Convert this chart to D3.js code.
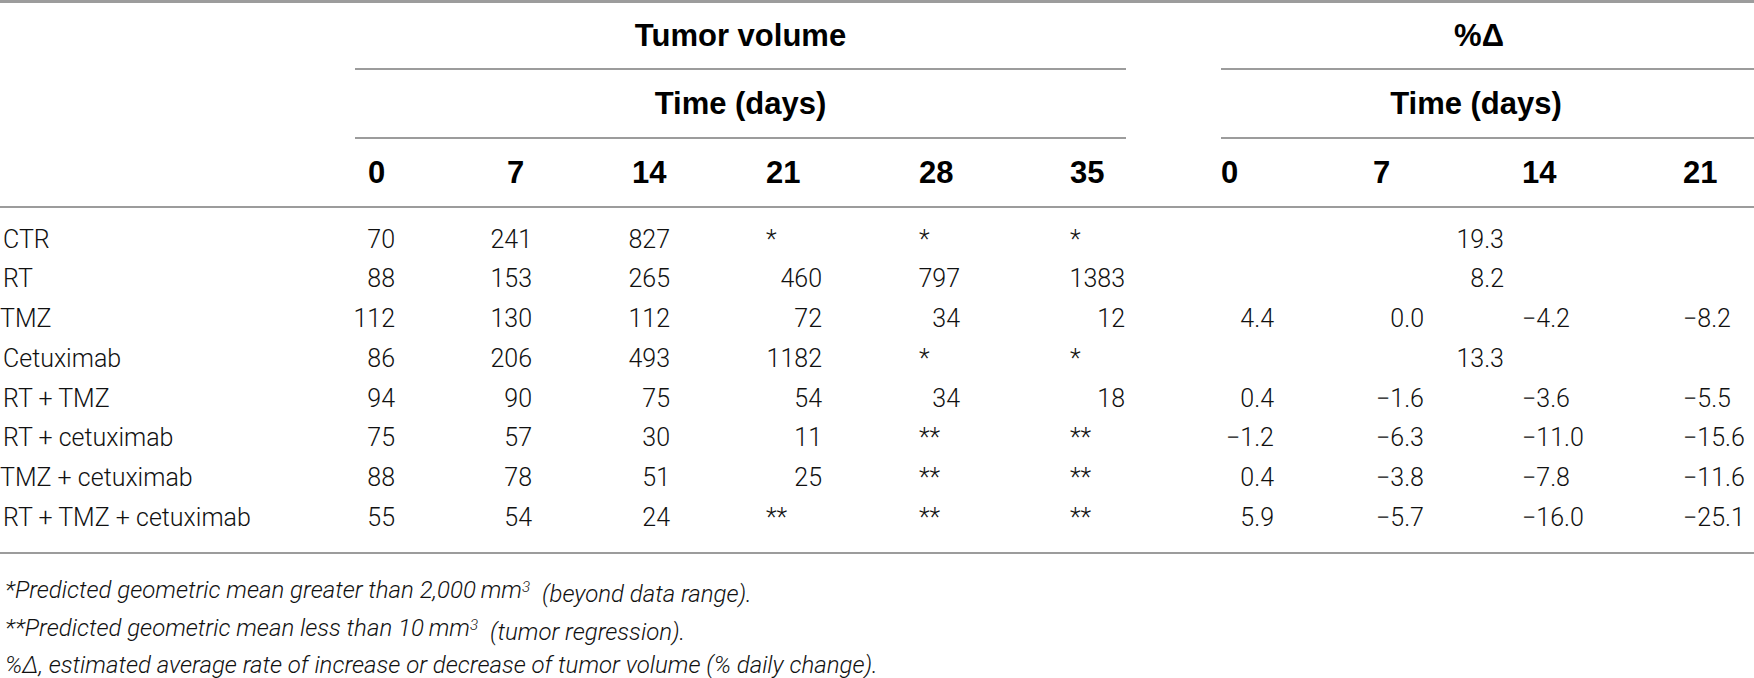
<!DOCTYPE html>
<html lang="en">
<head>
  <meta charset="UTF-8">
  <title>Tumor volume table</title>
  <script src="https://d3js.org/d3.v7.min.js"></script>
  <style>
    body { margin: 0; background: #fff; }
    svg { display: block; }
    .body { font-family: Roboto, "Liberation Sans", sans-serif; font-weight: 300; font-size: 25px; fill: #111; }
    .head { font-family: "Liberation Sans Narrow", "Liberation Sans", sans-serif; font-weight: bold; font-size: 31px; fill: #000; }
    .note { font-family: Roboto, "Liberation Sans", sans-serif; font-weight: 300; font-style: italic; font-size: 24px; fill: #111; }
  </style>
</head>
<body>
  <svg width="1754" height="678"></svg>

  <script>
    const groups = ["CTR", "RT", "TMZ", "Cetuximab", "RT + TMZ", "RT + cetuximab",
                    "TMZ + cetuximab", "RT + TMZ + cetuximab"];
    const volumeDays = ["0", "7", "14", "21", "28", "35"];
    const changeDays = ["0", "7", "14", "21"];

    // tumor volume, mm3 (* above range, ** below range)
    const volume = [
      ["70", "241", "827", "*", "*", "*"],
      ["88", "153", "265", "460", "797", "1383"],
      ["112", "130", "112", "72", "34", "12"],
      ["86", "206", "493", "1182", "*", "*"],
      ["94", "90", "75", "54", "34", "18"],
      ["75", "57", "30", "11", "**", "**"],
      ["88", "78", "51", "25", "**", "**"],
      ["55", "54", "24", "**", "**", "**"]
    ];
    // % daily change; a single value means one rate for all days
    const change = [
      ["19.3"],
      ["8.2"],
      ["4.4", "0.0", "−4.2", "−8.2"],
      ["13.3"],
      ["0.4", "−1.6", "−3.6", "−5.5"],
      ["−1.2", "−6.3", "−11.0", "−15.6"],
      ["0.4", "−3.8", "−7.8", "−11.6"],
      ["5.9", "−5.7", "−16.0", "−25.1"]
    ];

    const svg = d3.select("svg");
    const W = 1754;
    const lineColor = "#9c9c9c";

    const y = d3.scalePoint().domain(groups).range([239, 517]);

    const volLeft = d3.scaleOrdinal().domain(volumeDays).range([368, 507, 632, 766, 919, 1070]);
    const volRight = d3.scaleOrdinal().domain(volumeDays).range([395, 532, 670, 822, 960, 1125]);
    const chgLeft = d3.scaleOrdinal().domain(changeDays).range([1221, 1373, 1522, 1683]);
    const chgRight = d3.scaleOrdinal().domain(changeDays).range([1274, 1424, null, null]);

    const volSpan = [355, 1126], chgSpan = [1221, W];

    function hline(x1, x2, yy, w) {
      svg.append("line").attr("x1", x1).attr("x2", x2).attr("y1", yy).attr("y2", yy)
        .attr("stroke", lineColor).attr("stroke-width", w || 2);
    }

    // rules
    hline(0, W, 1.5, 3);
    hline(volSpan[0], volSpan[1], 69);
    hline(chgSpan[0], chgSpan[1], 69);
    hline(volSpan[0], volSpan[1], 138);
    hline(chgSpan[0], chgSpan[1], 138);
    hline(0, W, 207);
    hline(0, W, 553);

    // group headers
    const hdr = svg.append("g").attr("class", "head");
    hdr.append("text").attr("x", (volSpan[0] + volSpan[1]) / 2).attr("y", 35).attr("dy", "0.35em")
      .attr("text-anchor", "middle").text("Tumor volume");
    hdr.append("text").attr("x", 1479).attr("y", 35).attr("dy", "0.35em")
      .attr("text-anchor", "middle").text("%Δ");
    hdr.append("text").attr("x", (volSpan[0] + volSpan[1]) / 2).attr("y", 103).attr("dy", "0.35em")
      .attr("text-anchor", "middle").text("Time (days)");
    hdr.append("text").attr("x", 1476).attr("y", 103).attr("dy", "0.35em")
      .attr("text-anchor", "middle").text("Time (days)");

    hdr.selectAll(".vd").data(volumeDays).join("text")
      .attr("x", d => volLeft(d)).attr("y", 172).attr("dy", "0.35em").text(d => d);
    hdr.selectAll(".cd").data(changeDays).join("text")
      .attr("x", d => chgLeft(d)).attr("y", 172).attr("dy", "0.35em").text(d => d);

    // body
    const body = svg.append("g").attr("class", "body");
    body.selectAll(".lab").data(groups).join("text")
      .attr("x", (d, i) => i === 2 || i === 6 ? 0 : 3)
      .attr("y", d => y(d)).attr("dy", "0.35em").text(d => d);

    volume.forEach((row, r) => {
      body.selectAll(null).data(row).join("text")
        .attr("x", (d, c) => d.startsWith("*") ? volLeft(volumeDays[c]) : volRight(volumeDays[c]))
        .attr("text-anchor", d => d.startsWith("*") ? "start" : "end")
        .attr("y", y(groups[r])).attr("dy", "0.35em")
        .text(d => d);
    });

    change.forEach((row, r) => {
      if (row.length === 1) {
        body.append("text").attr("x", 1504).attr("text-anchor", "end")
          .attr("y", y(groups[r])).attr("dy", "0.35em").text(row[0]);
        return;
      }
      body.selectAll(null).data(row).join("text")
        .attr("x", (d, c) => chgRight(changeDays[c]) != null ? chgRight(changeDays[c]) : chgLeft(changeDays[c]))
        .attr("text-anchor", (d, c) => chgRight(changeDays[c]) != null ? "end" : "start")
        .attr("y", y(groups[r])).attr("dy", "0.35em")
        .text(d => d);
    });

    // footnotes
    const notes = svg.append("g").attr("class", "note");
    const n1 = notes.append("text").attr("x", 5).attr("y", 590).attr("dy", "0.35em");
    n1.append("tspan").text("*Predicted geometric mean greater than 2,000\u2009mm");
    n1.append("tspan").attr("dy", "-0.45em").attr("font-size", "15px").text("3");
    n1.append("tspan").attr("dy", "0.45em").text("\u2002(beyond data range).");

    const n2 = notes.append("text").attr("x", 5).attr("y", 628).attr("dy", "0.35em");
    n2.append("tspan").text("**Predicted geometric mean less than 10\u2009mm");
    n2.append("tspan").attr("dy", "-0.45em").attr("font-size", "15px").text("3");
    n2.append("tspan").attr("dy", "0.45em").text("\u2002(tumor regression).");

    notes.append("text").attr("x", 5).attr("y", 665).attr("dy", "0.35em")
      .text("%Δ, estimated average rate of increase or decrease of tumor volume (% daily change).");
  </script>
</body>
</html>
